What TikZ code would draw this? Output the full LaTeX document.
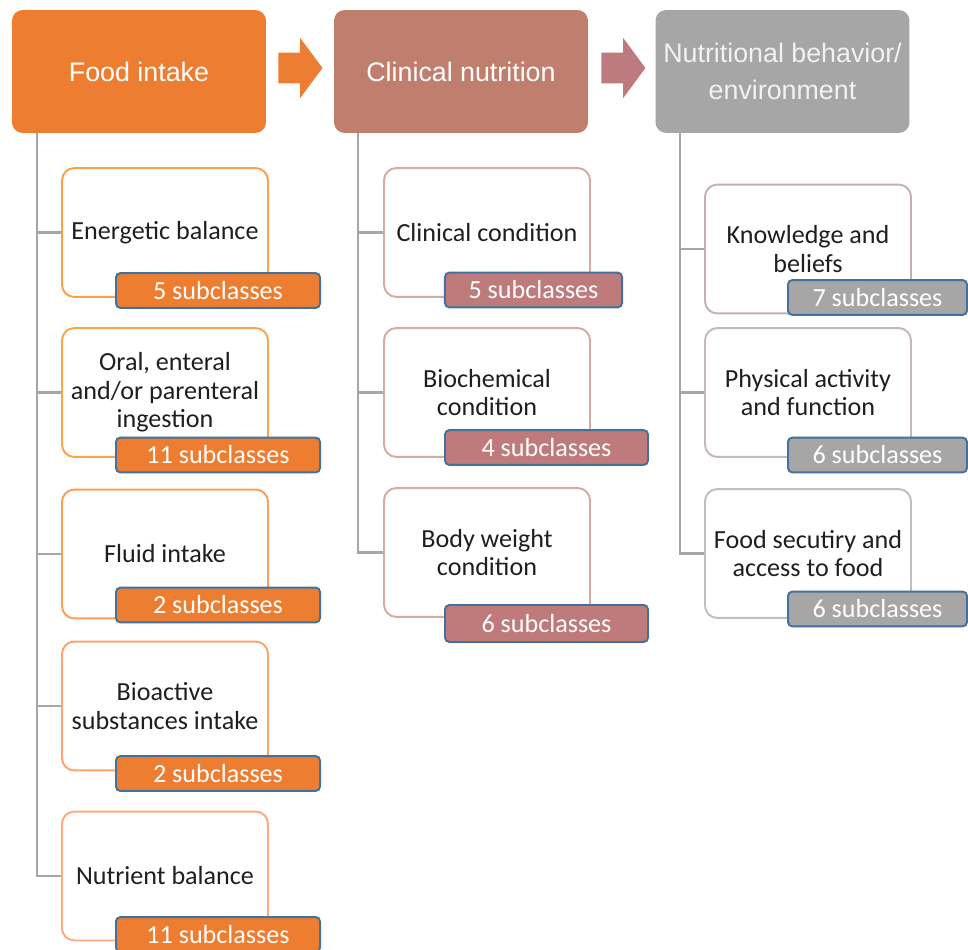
\documentclass[tikz,border=0pt]{standalone}
\usepackage{fontspec}
\setmainfont{Carlito}
\newfontfamily\headfont{Liberation Sans}
\usetikzlibrary{shapes.arrows}

\definecolor{foodorange}{HTML}{ED7D31}
\definecolor{clinrose}{HTML}{C07E6F}
\definecolor{arrowrose}{HTML}{BD7B80}
\definecolor{tagrose}{HTML}{BF7A7C}
\definecolor{behavgray}{HTML}{A6A6A6}
\definecolor{tagblue}{HTML}{41719C}
\definecolor{linegray}{HTML}{A6A6A6}

\begin{document}
\begin{tikzpicture}[
    x=0.567pt, y=-0.567pt,
    head/.style={fill=#1, rounded corners=6pt, minimum width=144pt, minimum height=69.7pt, inner sep=0pt, align=center, text=white, font=\headfont\fontsize{15.2}{21}\selectfont},
    item/.style={draw=#1, line width=1.1pt, fill=white, rounded corners=7pt, minimum width=116.8pt, minimum height=73.1pt, inner sep=0pt, align=center, text=black!88, font=\fontsize{14.8}{16.2}\selectfont},
    tag/.style={fill=#1, draw=tagblue, line width=1.1pt, rounded corners=2.5pt, minimum width=115.7pt, minimum height=19.8pt, inner sep=0pt, text=white, font=\fontsize{14.8}{16}\selectfont},
    flow/.style={single arrow, fill=#1, minimum height=25pt, inner xsep=0pt, inner ysep=8.5pt, single arrow head extend=8.5pt, single arrow tip angle=107, anchor=tail},
    branch/.style={draw=linegray, line width=1.3pt}
]
    \useasboundingbox (0,0) rectangle (968,950);

    % top row
    \node[head=foodorange] (food) at (139,71.5) {Food intake};
    \node[head=clinrose] (clin) at (461,71.5) {Clinical nutrition};
    \node[head=behavgray, text=white!95!black] (behav) at (782.5,71.5) {Nutritional behavior/\\environment};
    \node[flow=foodorange] (arrA) at (278,68) {};
    \node[flow=arrowrose] (arrB) at (601,68) {};

    \coordinate (foodroot) at (37,133);
    \coordinate (clinroot) at (358,133);
    \coordinate (behavroot) at (680,133);

    % food intake column
    \node[item=orange!75!white] (energ) at (165,232.5) {Energetic balance};
    \node[item=orange!72!white] (oral) at (165,392.5) {Oral, enteral\\and/or parenteral\\ingestion};
    \node[item=orange!55!pink] (fluid) at (165,554) {Fluid intake};
    \node[item=orange!45!pink] (bioact) at (165,706) {Bioactive\\substances intake};
    \node[item=orange!35!pink] (nutri) at (165,876) {Nutrient balance};

    \foreach \n in {energ,oral,fluid,bioact,nutri}
        \draw[branch] (foodroot) |- (\n.west);

    \node[tag=foodorange] (energ-n) at (218,290.5) {5 subclasses};
    \node[tag=foodorange] (oral-n) at (218,455) {11 subclasses};
    \node[tag=foodorange] (fluid-n) at (218,605) {2 subclasses};
    \node[tag=foodorange] (bioact-n) at (218,773.5) {2 subclasses};
    \node[tag=foodorange] (nutri-n) at (218,934.5) {11 subclasses};

    % clinical nutrition column
    \node[item=clinrose!65!white] (cond) at (487,232.5) {Clinical condition};
    \node[item=clinrose!65!white] (biochem) at (487,392.5) {Biochemical\\condition};
    \node[item=clinrose!65!white] (weight) at (487,552.5) {Body weight\\condition};

    \foreach \n in {cond,biochem,weight}
        \draw[branch] (clinroot) |- (\n.west);

    \node[tag=tagrose, minimum width=100.4pt] (cond-n) at (533.5,290) {5 subclasses};
    \node[tag=tagrose, minimum width=115.1pt] (biochem-n) at (546.5,447.5) {4 subclasses};
    \node[tag=tagrose, minimum width=115.1pt, minimum height=21pt] (weight-n) at (546.5,623.5) {6 subclasses};

    % behavior / environment column
    \node[item=clinrose!40!gray!60!white] (know) at (808,249) {Knowledge and\\beliefs};
    \node[item=clinrose!30!gray!55!white] (phys) at (808,392.5) {Physical activity\\and function};
    \node[item=gray!50!white] (secur) at (808,553.5) {Food secutiry and\\access to food};

    \foreach \n in {know,phys,secur}
        \draw[branch] (behavroot) |- (\n.west);

    \node[tag=behavgray, minimum width=101.5pt] (know-n) at (877.5,297.5) {7 subclasses};
    \node[tag=behavgray, minimum width=101.5pt] (phys-n) at (877.5,455) {6 subclasses};
    \node[tag=behavgray, minimum width=101.5pt] (secur-n) at (877.5,609) {6 subclasses};
\end{tikzpicture}
\end{document}
